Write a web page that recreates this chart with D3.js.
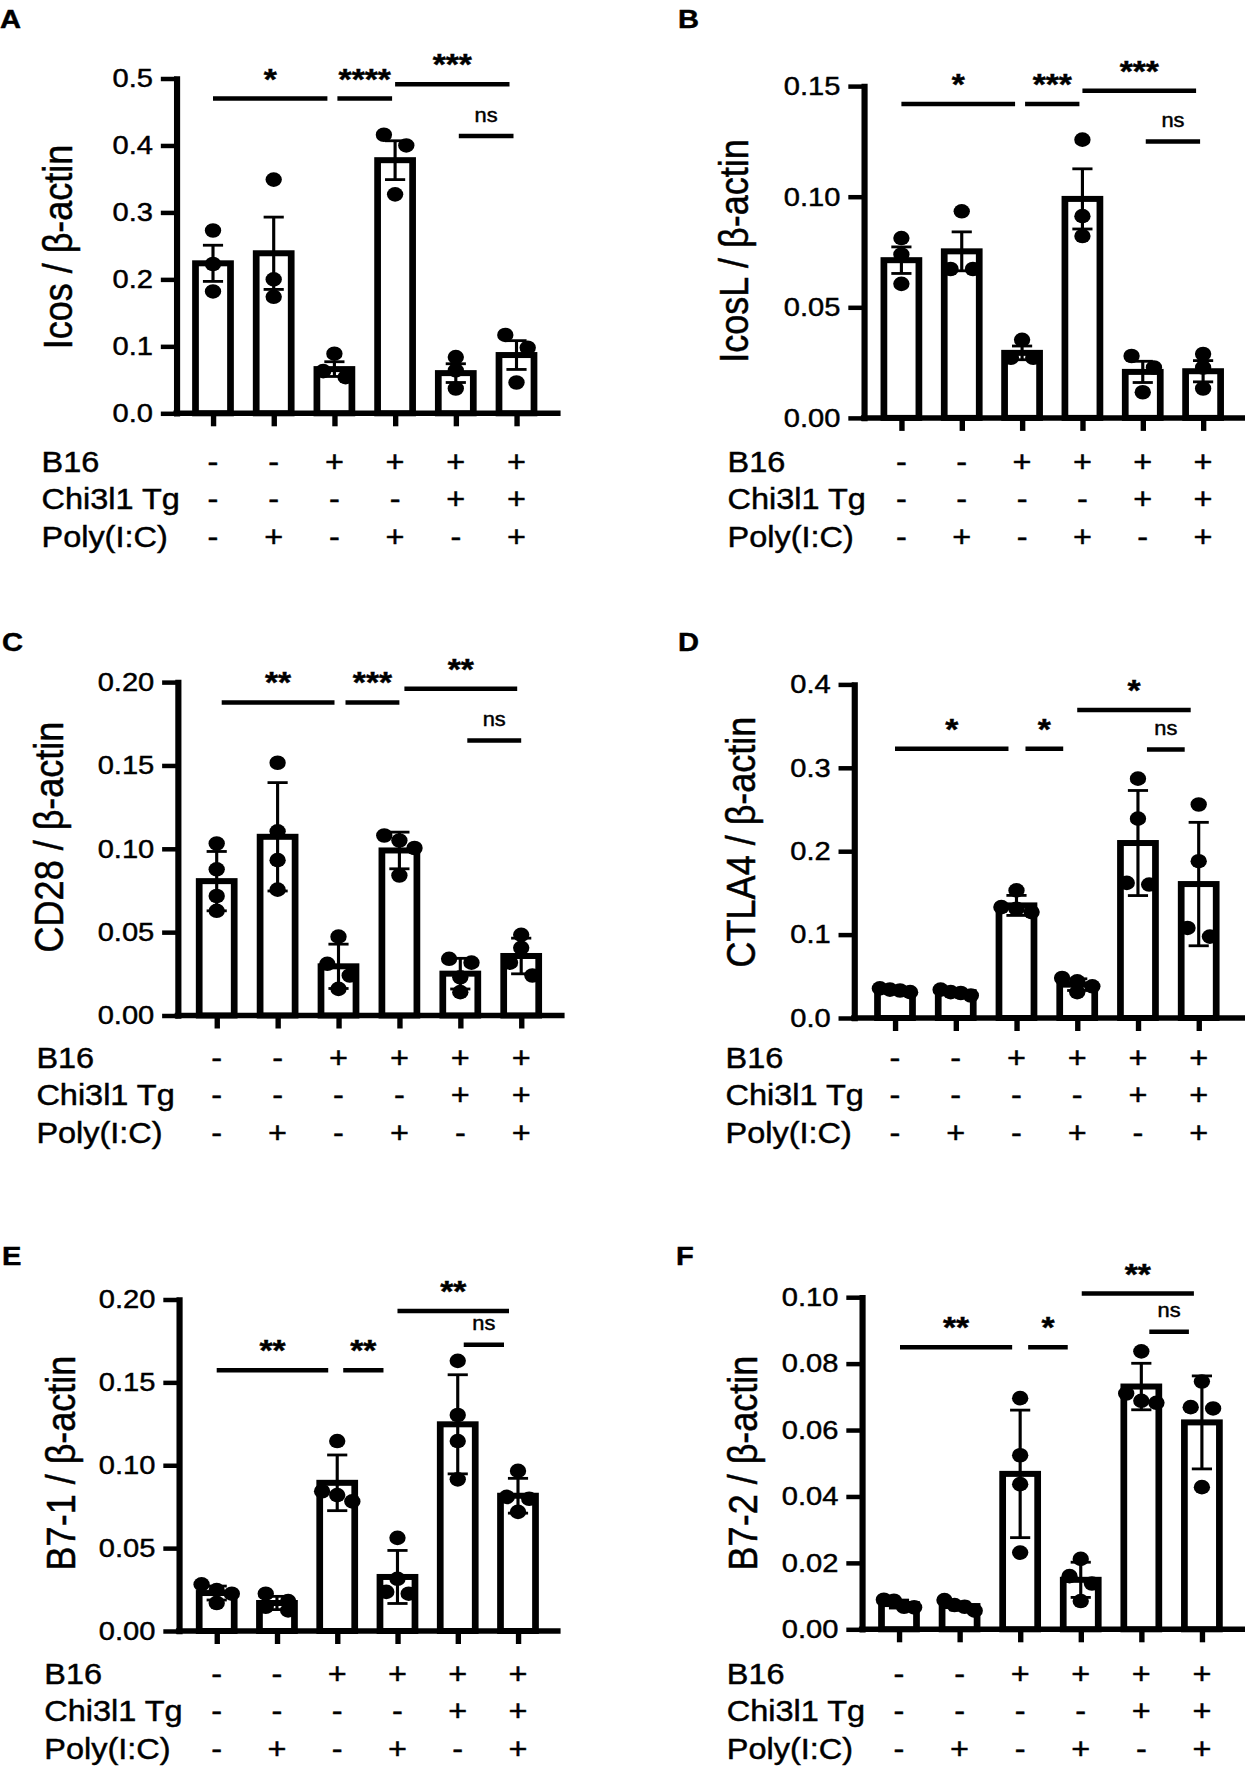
<!DOCTYPE html>
<html lang="en">
<head>
<meta charset="UTF-8">
<title>Icos / IcosL / CD28 / CTLA4 / B7-1 / B7-2</title>
<script src="https://cdnjs.cloudflare.com/ajax/libs/d3/7.8.5/d3.min.js"></script>
<style>
  body { margin: 0; background: #fff; }
  svg { display: block; }
  text { stroke: #000; stroke-width: 0.45px; }
</style>
</head>
<body>
<svg id="fig" width="1245" height="1767"></svg>
<script>
// groups along the x axis and the treatment table under it
const groups = ["G1", "G2", "G3", "G4", "G5", "G6"];
const factorNames = ["B16", "Chi3l1 Tg", "Poly(I:C)"];
const factorSigns = [
  ["-", "-", "+", "+", "+", "+"],
  ["-", "-", "-", "-", "+", "+"],
  ["-", "+", "-", "+", "-", "+"]
];

// A - Icos
const icosMean = [0.224, 0.239, 0.066, 0.378, 0.060, 0.087];
const icosErr = [0.027, 0.054, 0.011, 0.029, 0.014, 0.0215];
const icosPts = [[0.273, 0.223, 0.182], [0.349, 0.200, 0.174], [0.089, 0.063, 0.054],
                 [0.416, 0.400, 0.327], [0.084, 0.064, 0.037], [0.117, 0.098, 0.046]];
const icosTicks = [0, 0.1, 0.2, 0.3, 0.4, 0.5];
const icosSig = [[0, 2, "*", 0.470], [2, 3, "****", 0.470], [3, 5, "***", 0.4915], [4, 5, "ns", 0.414]];

// B - IcosL
const icoslMean = [0.0713, 0.0753, 0.0294, 0.099, 0.0208, 0.0211];
const icoslErr = [0.006, 0.0088, 0.0031, 0.0136, 0.0048, 0.0048];
const icoslPts = [[0.0813, 0.0739, 0.0606], [0.0934, 0.0673, 0.0673], [0.0353, 0.0272, 0.0272],
                  [0.1258, 0.0912, 0.0822], [0.028, 0.0228, 0.0116], [0.0289, 0.0228, 0.0133]];
const icoslTicks = [0, 0.05, 0.10, 0.15];
const icoslSig = [[0, 2, "*", 0.1419], [2, 3, "***", 0.1419], [3, 5, "***", 0.1479], [4, 5, "ns", 0.1249]];

// C - CD28
const cd28Mean = [0.0806, 0.1072, 0.0295, 0.099, 0.0251, 0.0357];
const cd28Err = [0.0178, 0.0325, 0.0133, 0.011, 0.0092, 0.0107];
const cd28Pts = [[0.1032, 0.0877, 0.0717, 0.0628], [0.1516, 0.1105, 0.0932, 0.0755],
                 [0.0473, 0.031, 0.024, 0.016], [0.108, 0.105, 0.1005, 0.084],
                 [0.034, 0.0317, 0.0229, 0.014], [0.0484, 0.0406, 0.0317, 0.024]];
const cd28Ticks = [0, 0.05, 0.10, 0.15, 0.20];
const cd28Sig = [[0, 2, "**", 0.1878], [2, 3, "***", 0.1878], [3, 5, "**", 0.196], [4, 5, "ns", 0.1649]];

// D - CTLA4
const ctla4Mean = [0.0333, 0.031, 0.135, 0.040, 0.2098, 0.1606];
const ctla4Err = [0.003, 0.003, 0.012, 0.007, 0.063, 0.074];
const ctla4Pts = [[0.031, 0.0355, 0.033, 0.034], [0.027, 0.034, 0.030, 0.031],
                  [0.153, 0.133, 0.131, 0.127], [0.048, 0.044, 0.038, 0.031],
                  [0.287, 0.239, 0.160, 0.162], [0.256, 0.188, 0.108, 0.0976]];
const ctla4Ticks = [0, 0.1, 0.2, 0.3, 0.4];
const ctla4Sig = [[0, 2, "*", 0.3229], [2, 3, "*", 0.3229], [3, 5, "*", 0.3694], [4, 5, "ns", 0.322]];

// E - B7-1
const b71Mean = [0.0229, 0.0169, 0.0894, 0.0326, 0.1247, 0.0816];
const b71Err = [0.0042, 0.0040, 0.0168, 0.0160, 0.0299, 0.0105];
const b71Pts = [[0.0281, 0.0247, 0.0225, 0.0169], [0.0225, 0.018, 0.0146, 0.0124],
                [0.1146, 0.0843, 0.082, 0.0782], [0.0562, 0.0315, 0.0236, 0.0225],
                [0.163, 0.1303, 0.1146, 0.0915], [0.0966, 0.0809, 0.0798, 0.0719]];
const b71Ticks = [0, 0.05, 0.10, 0.15, 0.20];
const b71Sig = [[0, 2, "**", 0.1573], [2, 3, "**", 0.1573], [3, 5, "**", 0.193], [4, 5, "ns", 0.1727]];

// F - B7-2
const b72Mean = [0.0076, 0.0070, 0.0468, 0.0149, 0.0731, 0.0623];
const b72Err = [0.0012, 0.0012, 0.0192, 0.0053, 0.0070, 0.0140];
const b72Pts = [[0.0089, 0.0086, 0.0066, 0.0068], [0.0088, 0.0073, 0.0068, 0.0056],
                [0.0696, 0.0524, 0.0437, 0.0231], [0.0212, 0.016, 0.0138, 0.0085],
                [0.0837, 0.071, 0.0688, 0.0682], [0.0746, 0.0669, 0.0665, 0.0428]];
const b72Ticks = [0, 0.02, 0.04, 0.06, 0.08, 0.10];
const b72Sig = [[0, 2, "**", 0.0849], [2, 3, "*", 0.0849], [3, 5, "**", 0.1011], [4, 5, "ns", 0.0896]];

// layout of each panel, in page pixels
const panels = [
  { letter: "A", lx: 0, ly: 28, title: "Icos / \u03b2-actin", tx: 58, ty: 247,
    mean: icosMean, err: icosErr, pts: icosPts, ticks: icosTicks, fmt: ".1f", sig: icosSig,
    axisX: 176.5, axisEnd: 557.5, c0: 213, c5: 516.5, y0: 413.3, yTop: 78.5,
    rowX: 41.5, rowY: 472, span: [0, -7], pair: [3, -3] },
  { letter: "B", lx: 678, ly: 28, title: "IcosL / \u03b2-actin", tx: 734, ty: 251,
    mean: icoslMean, err: icoslErr, pts: icoslPts, ticks: icoslTicks, fmt: ".2f", sig: icoslSig,
    axisX: 864, axisEnd: 1245, c0: 901.4, c5: 1203.1, y0: 417.9, yTop: 86.1,
    rowX: 727.6, rowY: 472, span: [0, -7], pair: [3, -3] },
  { letter: "C", lx: 2, ly: 651, title: "CD28 / \u03b2-actin", tx: 48.5, ty: 837,
    mean: cd28Mean, err: cd28Err, pts: cd28Pts, ticks: cd28Ticks, fmt: ".2f", sig: cd28Sig,
    axisX: 177.8, axisEnd: 561.5, c0: 216.7, c5: 521.2, y0: 1015.5, yTop: 682.1,
    rowX: 36.4, rowY: 1068, span: [5, -4], pair: [7, 0] },
  { letter: "D", lx: 678, ly: 651, title: "CTLA4 / \u03b2-actin", tx: 740.6, ty: 842,
    mean: ctla4Mean, err: ctla4Err, pts: ctla4Pts, ticks: ctla4Ticks, fmt: ".1f", sig: ctla4Sig,
    axisX: 854.2, axisEnd: 1245, c0: 895, c5: 1198.7, y0: 1018, yTop: 684.4,
    rowX: 725.6, rowY: 1068, span: [0, -8], pair: [9, -14] },
  { letter: "E", lx: 2, ly: 1265, title: "B7-1 / \u03b2-actin", tx: 60.3, ty: 1463,
    mean: b71Mean, err: b71Err, pts: b71Pts, ticks: b71Ticks, fmt: ".2f", sig: b71Sig,
    axisX: 179, axisEnd: 557.5, c0: 216.7, c5: 518, y0: 1631, yTop: 1299.5,
    rowX: 44.3, rowY: 1684, span: [0, -9], pair: [6, -14] },
  { letter: "F", lx: 676, ly: 1265, title: "B7-2 / \u03b2-actin", tx: 742.6, ty: 1463,
    mean: b72Mean, err: b72Err, pts: b72Pts, ticks: b72Ticks, fmt: ".2f", sig: b72Sig,
    axisX: 862, axisEnd: 1245, c0: 899, c5: 1201.9, y0: 1629.3, yTop: 1297.2,
    rowX: 726.8, rowY: 1684, span: [1, -8], pair: [8, -13] }
];

const FONT = "'Liberation Sans', Arial, Helvetica, sans-serif";
const SX = 1.12;              // the figure is a bit wider than tall, everything is stretched in x
const X = v => v / SX;
const rowStep = 37.3;

const svg = d3.select("#fig");
svg.append("rect").attr("width", 1245).attr("height", 1767).attr("fill", "#fff");
const root = svg.append("g")
  .attr("transform", `scale(${SX},1)`)
  .attr("font-family", FONT)
  .attr("fill", "#000");

// spread the dots of one group sideways when they sit at about the same height
function swarm(vals, y) {
  const order = vals.map(v => ({ v, py: y(v) })).sort((a, b) => a.py - b.py);
  const rows = [];
  order.forEach(o => {
    const last = rows[rows.length - 1];
    if (last && o.py - last[0].py < 13) last.push(o);
    else rows.push([o]);
  });
  const out = [];
  rows.forEach(r => {
    const k = r.length;
    const d = k > 1 ? Math.min(20, 27 / (k - 1)) : 0;
    r.forEach((o, j) => out.push({ v: o.v, dx: (j - (k - 1) / 2) * d }));
  });
  return out;
}

panels.forEach(p => {
  const g = root.append("g");
  const x = d3.scalePoint().domain(groups).range([X(p.c0), X(p.c5)]);
  const y = d3.scaleLinear().domain([0, d3.max(p.ticks)]).range([p.y0, p.yTop]);

  g.append("text")
    .attr("x", X(p.lx)).attr("y", p.ly)
    .attr("font-size", 26).attr("font-weight", "bold")
    .text(p.letter);

  // bars
  const bw = X(35);
  g.selectAll("rect.bar")
    .data(p.mean)
    .join("rect")
    .attr("class", "bar")
    .attr("x", (d, i) => x(groups[i]) - bw / 2)
    .attr("width", bw)
    .attr("y", d => y(d))
    .attr("height", d => p.y0 - y(d))
    .attr("fill", "#fff")
    .attr("stroke", "#000")
    .attr("stroke-width", 6);

  // error bars
  p.mean.forEach((m, i) => {
    const cx = x(groups[i]);
    const hi = y(m + p.err[i]);
    const lo = y(m - p.err[i]);
    const eb = g.append("g").attr("stroke", "#000").attr("stroke-width", 2.8);
    eb.append("line").attr("x1", cx).attr("x2", cx).attr("y1", lo).attr("y2", hi);
    eb.append("line").attr("x1", cx - 9).attr("x2", cx + 9).attr("y1", hi).attr("y2", hi);
    eb.append("line").attr("x1", cx - 9).attr("x2", cx + 9).attr("y1", lo).attr("y2", lo);
  });

  // individual points
  p.pts.forEach((vals, i) => {
    g.selectAll(null)
      .data(swarm(vals, y))
      .join("circle")
      .attr("cx", d => x(groups[i]) + d.dx)
      .attr("cy", d => y(d.v))
      .attr("r", 7.3)
      .attr("fill", "#000");
  });

  // y axis
  const ya = g.append("g")
    .attr("transform", `translate(${X(p.axisX)},0)`)
    .call(d3.axisLeft(y).tickValues(p.ticks).tickFormat(d3.format(p.fmt))
      .tickSize(14).tickSizeOuter(0).tickPadding(7));
  ya.attr("font-size", 26).attr("font-family", FONT);
  ya.select(".domain").attr("stroke-width", 5.5).attr("stroke-linecap", "square");
  ya.selectAll(".tick line").attr("stroke-width", 4.5);
  ya.selectAll(".tick text").attr("fill", "#000");

  // x axis: a tick under every bar, no labels
  const xa = g.append("g")
    .attr("transform", `translate(0,${p.y0})`)
    .call(d3.axisBottom(x).tickSize(13).tickSizeOuter(0).tickFormat(""));
  xa.select(".domain").remove();
  xa.selectAll(".tick line").attr("stroke-width", 4.8);
  g.append("line")
    .attr("x1", X(p.axisX)).attr("x2", X(p.axisEnd))
    .attr("y1", p.y0).attr("y2", p.y0)
    .attr("stroke", "#000").attr("stroke-width", 5.5).attr("stroke-linecap", "square");

  // y title
  g.append("text")
    .attr("transform", `translate(${X(p.tx)},${p.ty}) rotate(-90)`)
    .attr("text-anchor", "middle")
    .attr("dominant-baseline", "central")
    .attr("font-size", 36)
    .text(p.title);

  // significance brackets
  p.sig.forEach(([a, b, lab, v]) => {
    const ins = (b - a === 1) ? p.pair : p.span;
    const x1 = x(groups[a]) + X(ins[0]);
    const x2 = x(groups[b]) + X(ins[1]);
    const ly = y(v);
    g.append("line")
      .attr("x1", x1).attr("x2", x2).attr("y1", ly).attr("y2", ly)
      .attr("stroke", "#000").attr("stroke-width", 4.5);
    const ns = lab === "ns";
    g.append("text")
      .attr("x", (x1 + x2) / 2)
      .attr("y", ly - (ns ? 14.5 : 10))
      .attr("text-anchor", "middle")
      .attr("font-size", ns ? 19.5 : 30)
      .attr("font-weight", ns ? "normal" : "bold")
      .text(lab);
  });

  // treatment table
  factorNames.forEach((name, r) => {
    const ry = p.rowY + r * rowStep;
    g.append("text")
      .attr("x", X(p.rowX)).attr("y", ry)
      .attr("font-size", 29)
      .text(name);
    g.selectAll(null)
      .data(factorSigns[r])
      .join("text")
      .attr("x", (d, i) => x(groups[i]))
      .attr("y", ry)
      .attr("text-anchor", "middle")
      .attr("font-size", 29)
      .text(d => d);
  });
});
</script>
</body>
</html>
